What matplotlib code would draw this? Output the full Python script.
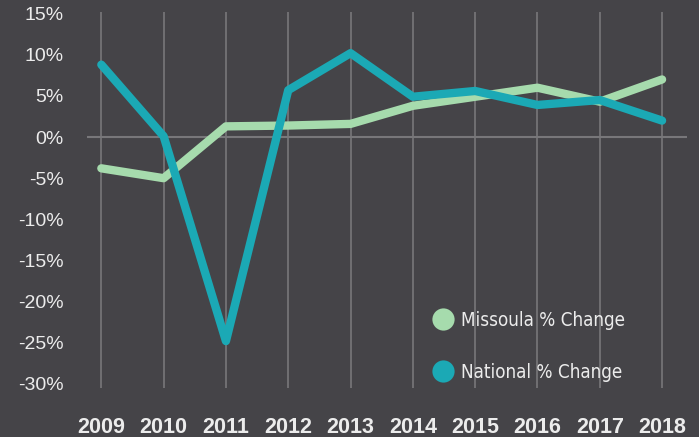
import matplotlib
matplotlib.use("Agg")
import matplotlib.pyplot as plt
from matplotlib.lines import Line2D

years = [2009, 2010, 2011, 2012, 2013, 2014, 2015, 2016, 2017, 2018]
missoula = [-3.8, -5.0, 1.3, 1.4, 1.6, 3.8, 4.9, 6.0, 4.3, 7.0]
national = [8.8, 0.1, -24.8, 5.7, 10.2, 4.9, 5.6, 3.9, 4.5, 2.0]
yticks = [15, 10, 5, 0, -5, -10, -15, -20, -25, -30]
ytick_labels = [f"{v}%" for v in yticks]

BG = "#454448"
GREEN = "#a6dbad"
TEAL = "#1ba9b5"
GRID = "#78777a"
TXT = "#ececec"

fig = plt.figure(figsize=(6.99, 4.37), dpi=100, facecolor=BG)
ax = fig.add_axes([87/699, 1-388/437, 600/699, 376/437], facecolor=BG)

for y in years:
    ax.axvline(y, color=GRID, lw=1.2, zorder=1)
ax.axhline(0, color=GRID, lw=1.5, zorder=1)

ax.plot(years, missoula, color=GREEN, lw=6, solid_capstyle="round",
        solid_joinstyle="round", zorder=3, label="Missoula % Change")
ax.plot(years, national, color=TEAL, lw=6, solid_capstyle="round",
        solid_joinstyle="round", zorder=4, label="National % Change")

ax.set_xlim(2008.77, 2018.4)
ax.set_ylim(-30.5, 15.2)
ax.set_xticks(years)
ax.set_xticklabels([str(y) for y in years], fontsize=15.5, fontweight="bold",
                   color=TXT, family="Liberation Sans")
ax.set_yticks(yticks)
ax.set_yticklabels(ytick_labels, fontsize=14, color=TXT, family="Liberation Sans")
ax.tick_params(axis="x", length=0, pad=21)
ax.tick_params(axis="y", length=0, pad=17)
for s in ax.spines.values():
    s.set_visible(False)

handles = [Line2D([], [], marker="o", ls="", markersize=16, color=GREEN,
                  markeredgewidth=0),
           Line2D([], [], marker="o", ls="", markersize=16, color=TEAL,
                  markeredgewidth=0)]
leg = ax.legend(handles, ["Missoula % Change", "National % Change"],
                loc="upper left", bbox_to_anchor=((412-87)/600, (388-294)/376),
                frameon=False, labelspacing=1.75,
                handletextpad=0.2, handlelength=1.5,
                prop={"family": "DejaVu Sans", "stretch": "condensed", "size": 13.5})
for t in leg.get_texts():
    t.set_color(TXT)

fig.savefig("out.png", dpi=100, facecolor=BG)
